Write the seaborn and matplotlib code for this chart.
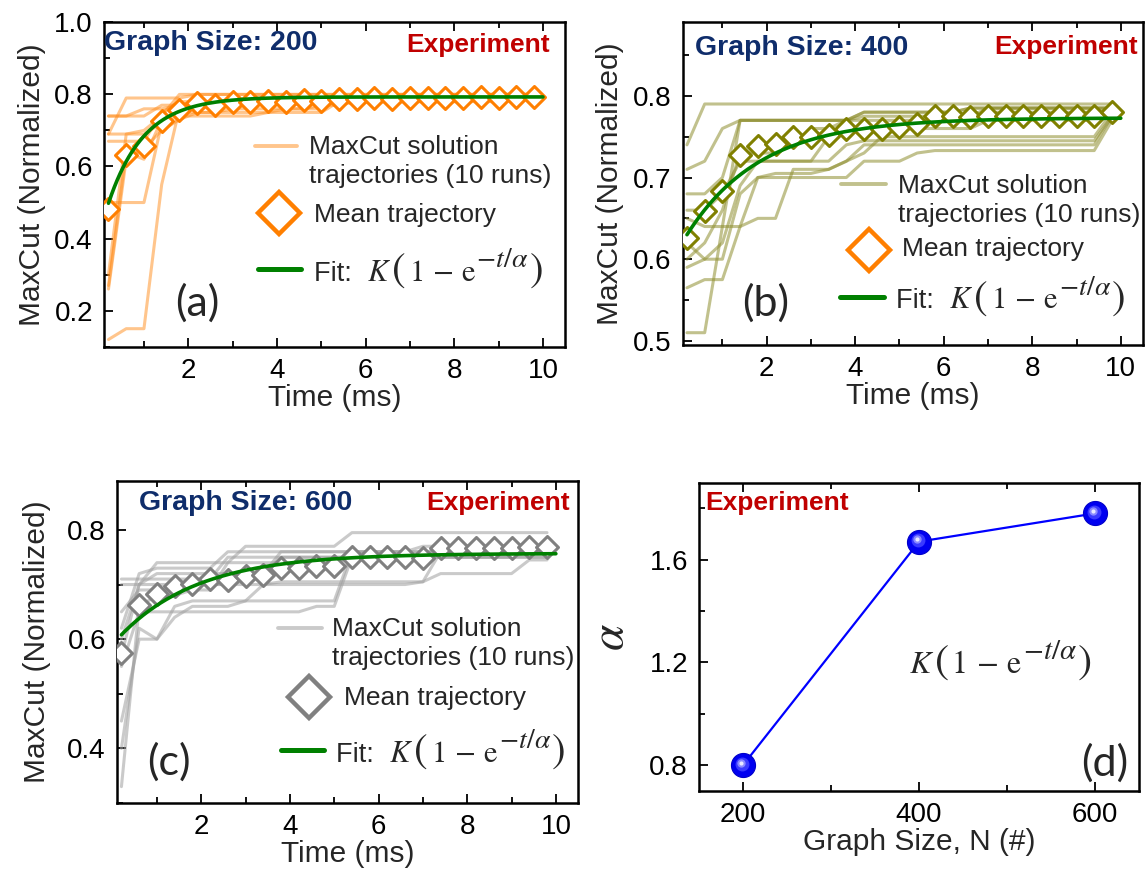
import numpy as np
import pandas as pd
import matplotlib
matplotlib.use("Agg")
import matplotlib.pyplot as plt
import matplotlib.transforms as mtransforms
from matplotlib.ticker import MultipleLocator
from matplotlib.offsetbox import TextArea, HPacker, AnnotationBbox
import seaborn as sns

# ---------------- data ----------------
time_ms = [0.2, 0.6, 1.0, 1.4, 1.8, 2.2, 2.6, 3.0, 3.4, 3.8, 4.2, 4.6, 5.0,
           5.4, 5.8, 6.2, 6.6, 7.0, 7.4, 7.8, 8.2, 8.6, 9.0, 9.4, 9.8]

mean_200 = [0.481, 0.633, 0.656, 0.726, 0.758, 0.777, 0.772, 0.780, 0.778, 0.782,
            0.780, 0.785, 0.782, 0.788, 0.786, 0.789, 0.788, 0.790, 0.789, 0.791,
            0.790, 0.792, 0.791, 0.792, 0.793]
mean_400 = [0.626, 0.659, 0.683, 0.727, 0.738, 0.741, 0.750, 0.750, 0.752, 0.760,
            0.760, 0.760, 0.762, 0.766, 0.775, 0.775, 0.774, 0.775, 0.775, 0.775,
            0.775, 0.775, 0.775, 0.775, 0.780]
mean_600 = [0.574, 0.663, 0.683, 0.697, 0.701, 0.711, 0.708, 0.716, 0.718, 0.730,
            0.730, 0.733, 0.733, 0.751, 0.750, 0.750, 0.751, 0.748, 0.766, 0.766,
            0.766, 0.767, 0.767, 0.768, 0.768]

runs_200 = [
    [0.12, 0.15, 0.15, 0.55, 0.76, 0.78, 0.78, 0.78, 0.79, 0.79, 0.79, 0.79, 0.79, 0.79, 0.79, 0.79, 0.79, 0.79, 0.79, 0.79, 0.79, 0.79, 0.79, 0.79, 0.79],
    [0.27, 0.64, 0.62, 0.73, 0.75, 0.75, 0.75, 0.75, 0.75, 0.75, 0.76, 0.76, 0.76, 0.79, 0.79, 0.79, 0.79, 0.79, 0.79, 0.79, 0.79, 0.80, 0.80, 0.80, 0.80],
    [0.30, 0.69, 0.69, 0.72, 0.74, 0.74, 0.74, 0.74, 0.74, 0.75, 0.75, 0.75, 0.75, 0.78, 0.78, 0.78, 0.78, 0.78, 0.78, 0.78, 0.78, 0.78, 0.78, 0.79, 0.79],
    [0.50, 0.50, 0.50, 0.72, 0.76, 0.78, 0.78, 0.78, 0.79, 0.79, 0.79, 0.79, 0.79, 0.79, 0.79, 0.79, 0.80, 0.80, 0.80, 0.80, 0.80, 0.80, 0.80, 0.80, 0.80],
    [0.67, 0.67, 0.67, 0.75, 0.78, 0.78, 0.78, 0.78, 0.78, 0.78, 0.78, 0.78, 0.78, 0.78, 0.78, 0.79, 0.79, 0.79, 0.79, 0.79, 0.79, 0.79, 0.79, 0.79, 0.79],
    [0.69, 0.79, 0.79, 0.79, 0.79, 0.80, 0.80, 0.80, 0.80, 0.80, 0.80, 0.80, 0.80, 0.80, 0.80, 0.80, 0.80, 0.80, 0.80, 0.80, 0.80, 0.80, 0.80, 0.80, 0.80],
    [0.69, 0.69, 0.70, 0.74, 0.80, 0.80, 0.80, 0.80, 0.80, 0.80, 0.80, 0.80, 0.80, 0.80, 0.80, 0.80, 0.80, 0.80, 0.80, 0.80, 0.80, 0.80, 0.80, 0.80, 0.80],
    [0.74, 0.74, 0.74, 0.77, 0.77, 0.78, 0.78, 0.78, 0.78, 0.78, 0.78, 0.78, 0.78, 0.78, 0.78, 0.78, 0.78, 0.79, 0.79, 0.79, 0.79, 0.79, 0.79, 0.79, 0.79],
    [0.74, 0.74, 0.76, 0.76, 0.77, 0.78, 0.78, 0.78, 0.78, 0.78, 0.79, 0.79, 0.79, 0.79, 0.79, 0.79, 0.79, 0.79, 0.79, 0.79, 0.79, 0.79, 0.79, 0.79, 0.79],
    [0.26, 0.62, 0.65, 0.70, 0.73, 0.75, 0.75, 0.76, 0.76, 0.76, 0.76, 0.76, 0.77, 0.77, 0.78, 0.78, 0.78, 0.78, 0.78, 0.78, 0.78, 0.79, 0.79, 0.79, 0.79],
]
runs_400 = [
    [0.74, 0.79, 0.79, 0.79, 0.79, 0.79, 0.79, 0.79, 0.79, 0.79, 0.79, 0.79, 0.79, 0.79, 0.79, 0.79, 0.79, 0.79, 0.79, 0.79, 0.79, 0.79, 0.79, 0.79, 0.79],
    [0.71, 0.72, 0.76, 0.77, 0.77, 0.77, 0.77, 0.77, 0.77, 0.77, 0.77, 0.77, 0.77, 0.77, 0.77, 0.77, 0.77, 0.78, 0.78, 0.78, 0.78, 0.78, 0.78, 0.78, 0.78],
    [0.68, 0.68, 0.70, 0.77, 0.77, 0.77, 0.77, 0.77, 0.77, 0.77, 0.78, 0.78, 0.78, 0.78, 0.78, 0.78, 0.785, 0.785, 0.785, 0.785, 0.785, 0.785, 0.785, 0.785, 0.785],
    [0.66, 0.66, 0.68, 0.72, 0.72, 0.72, 0.72, 0.72, 0.72, 0.74, 0.745, 0.745, 0.745, 0.745, 0.745, 0.745, 0.745, 0.745, 0.745, 0.745, 0.745, 0.745, 0.745, 0.745, 0.775],
    [0.65, 0.64, 0.64, 0.64, 0.65, 0.65, 0.71, 0.71, 0.71, 0.72, 0.73, 0.75, 0.75, 0.75, 0.75, 0.75, 0.75, 0.75, 0.75, 0.75, 0.75, 0.75, 0.75, 0.75, 0.78],
    [0.62, 0.60, 0.60, 0.68, 0.70, 0.705, 0.705, 0.705, 0.71, 0.72, 0.74, 0.74, 0.74, 0.74, 0.74, 0.74, 0.74, 0.74, 0.74, 0.74, 0.74, 0.74, 0.74, 0.74, 0.775],
    [0.60, 0.62, 0.66, 0.73, 0.73, 0.73, 0.74, 0.76, 0.76, 0.77, 0.78, 0.78, 0.78, 0.78, 0.78, 0.78, 0.785, 0.785, 0.785, 0.785, 0.785, 0.785, 0.785, 0.785, 0.785],
    [0.565, 0.575, 0.575, 0.64, 0.70, 0.70, 0.70, 0.70, 0.70, 0.70, 0.72, 0.72, 0.72, 0.73, 0.733, 0.733, 0.733, 0.733, 0.733, 0.733, 0.733, 0.733, 0.733, 0.733, 0.77],
    [0.51, 0.51, 0.64, 0.77, 0.77, 0.77, 0.77, 0.77, 0.77, 0.77, 0.775, 0.775, 0.775, 0.775, 0.775, 0.775, 0.775, 0.785, 0.785, 0.785, 0.785, 0.785, 0.785, 0.785, 0.785],
    [0.59, 0.60, 0.62, 0.69, 0.72, 0.72, 0.72, 0.72, 0.75, 0.76, 0.76, 0.76, 0.76, 0.76, 0.76, 0.76, 0.76, 0.77, 0.77, 0.77, 0.77, 0.77, 0.77, 0.77, 0.78],
]
runs_600 = [
    [0.33, 0.66, 0.68, 0.68, 0.69, 0.69, 0.74, 0.74, 0.74, 0.74, 0.74, 0.74, 0.74, 0.75, 0.75, 0.75, 0.75, 0.75, 0.75, 0.75, 0.75, 0.75, 0.75, 0.75, 0.75],
    [0.40, 0.62, 0.60, 0.64, 0.66, 0.66, 0.66, 0.67, 0.70, 0.70, 0.70, 0.70, 0.70, 0.70, 0.70, 0.70, 0.70, 0.705, 0.76, 0.76, 0.76, 0.76, 0.76, 0.765, 0.765],
    [0.45, 0.60, 0.60, 0.66, 0.67, 0.67, 0.67, 0.67, 0.67, 0.67, 0.67, 0.67, 0.67, 0.76, 0.76, 0.76, 0.76, 0.76, 0.76, 0.76, 0.76, 0.76, 0.76, 0.76, 0.76],
    [0.55, 0.65, 0.65, 0.65, 0.65, 0.65, 0.65, 0.65, 0.65, 0.65, 0.65, 0.66, 0.66, 0.75, 0.75, 0.75, 0.75, 0.75, 0.75, 0.75, 0.75, 0.75, 0.75, 0.75, 0.75],
    [0.60, 0.70, 0.74, 0.74, 0.74, 0.74, 0.74, 0.77, 0.77, 0.77, 0.77, 0.77, 0.77, 0.795, 0.795, 0.795, 0.795, 0.795, 0.795, 0.795, 0.795, 0.795, 0.795, 0.795, 0.795],
    [0.62, 0.72, 0.73, 0.73, 0.73, 0.73, 0.76, 0.76, 0.76, 0.76, 0.76, 0.76, 0.76, 0.76, 0.76, 0.76, 0.76, 0.77, 0.77, 0.77, 0.77, 0.77, 0.77, 0.77, 0.77],
    [0.65, 0.69, 0.69, 0.69, 0.70, 0.70, 0.70, 0.70, 0.70, 0.705, 0.705, 0.705, 0.705, 0.705, 0.705, 0.705, 0.705, 0.705, 0.72, 0.72, 0.72, 0.72, 0.72, 0.745, 0.745],
    [0.70, 0.70, 0.70, 0.70, 0.70, 0.70, 0.70, 0.72, 0.72, 0.76, 0.76, 0.76, 0.76, 0.76, 0.76, 0.76, 0.76, 0.76, 0.76, 0.76, 0.76, 0.76, 0.76, 0.76, 0.76],
    [0.71, 0.71, 0.71, 0.71, 0.71, 0.71, 0.75, 0.75, 0.75, 0.75, 0.75, 0.75, 0.75, 0.75, 0.75, 0.75, 0.75, 0.75, 0.77, 0.77, 0.77, 0.77, 0.77, 0.77, 0.77],
    [0.57, 0.70, 0.72, 0.72, 0.72, 0.72, 0.72, 0.72, 0.72, 0.75, 0.75, 0.75, 0.75, 0.75, 0.75, 0.75, 0.75, 0.75, 0.75, 0.75, 0.75, 0.75, 0.75, 0.76, 0.76],
]

graph_sizes = [200, 400, 600]
alpha_fit = [0.80, 1.67, 1.78]      # fitted time constants (panel d)
K_fit = [0.793, 0.773, 0.757]       # fitted plateau of each fit curve
fit_start = [0.498, 0.630, 0.608]   # fit curve value at the first time point
fit_t_range = [0.2, 10.0]

size_labels = ["Graph Size: 200", "Graph Size: 400", "Graph Size: 600"]
panel_letters = ["(a)", "(b)", "(c)", "(d)"]
legend_labels = ["MaxCut solution\ntrajectories (10 runs)", "Mean trajectory", "Fit:  "]

# ---------------- style ----------------
sns.set_style("ticks")
SANS = ["Liberation Sans", "DejaVu Sans"]
plt.rcParams["font.family"] = SANS
plt.rcParams["mathtext.fontset"] = "stix"

NAVY = "#0f2d6b"
RED = "#c00000"
GREEN = "#008000"

fig = plt.figure(figsize=(11.46, 8.72), dpi=100)
ax_a = fig.add_axes([0.0908, 0.6024, 0.4023, 0.372])
ax_b = fig.add_axes([0.5956, 0.6044, 0.4017, 0.370])
ax_c = fig.add_axes([0.1021, 0.0791, 0.4023, 0.3696])
ax_d = fig.add_axes([0.6100, 0.0932, 0.3840, 0.3534])


def style_axes(ax):
    for s in ax.spines.values():
        s.set_visible(True)
        s.set_linewidth(1.8)
        s.set_color("black")
    ax.tick_params(which="both", direction="in", top=True, right=False,
                   labelsize=20, width=1.3, color="black", labelcolor="black")
    ax.tick_params(which="major", length=6.5)
    ax.tick_params(which="minor", length=4)
    ax.tick_params(axis="y", pad=8)
    ax.tick_params(axis="x", pad=8)
    ax.grid(False)


def formula_box(ax, x, y, prefix=None, base=22):
    parts = []
    if prefix:
        parts.append(TextArea(prefix, textprops=dict(fontsize=19.5, family=SANS)))
    parts += [
        TextArea(r"$K$", textprops=dict(fontsize=base)),
        TextArea(r"$($", textprops=dict(fontsize=base * 1.33)),
        TextArea(r"$\,1\,-\,\mathrm{e}$", textprops=dict(fontsize=base)),
        TextArea(r"${}^{-t/\alpha}$", textprops=dict(fontsize=base * 1.3)),
        TextArea(r"$)$", textprops=dict(fontsize=base * 1.33)),
    ]
    box = HPacker(children=parts, align="baseline", pad=0, sep=0)
    ab = AnnotationBbox(box, (x, y), xycoords="axes fraction",
                        box_alignment=(0, 0.5), frameon=False, pad=0,
                        annotation_clip=False)
    ax.add_artist(ab)


def trajectory_panel(ax, idx, runs, mean, run_color, run_alpha, dia_color,
                     leg_dia_color, ylim, ymajor, yminor, leg, title_pos,
                     exp_pos, letter_pos, ylabelpad):
    df = pd.DataFrame([(r, t, v) for r, run in enumerate(runs)
                       for t, v in zip(time_ms, run)],
                      columns=["run", "t", "v"])
    sns.lineplot(data=df, x="t", y="v", units="run", estimator=None,
                 color=run_color, alpha=run_alpha, lw=2.2, ax=ax,
                 legend=False, zorder=2)
    sns.scatterplot(x=time_ms, y=mean, marker="D", s=125, color="white",
                    edgecolor=dia_color, linewidth=2.2, ax=ax, zorder=3,
                    legend=False)
    tt = np.linspace(fit_t_range[0], fit_t_range[1], 300)
    K, a, y0 = K_fit[idx], alpha_fit[idx], fit_start[idx]
    yy = K - (K - y0) * np.exp(-(tt - fit_t_range[0]) / a)
    sns.lineplot(x=tt, y=yy, color=GREEN, lw=2.6, ax=ax, zorder=4)

    ax.set_xlim(0.1, 10.5)
    ax.set_ylim(*ylim)
    ax.xaxis.set_major_locator(MultipleLocator(2))
    ax.xaxis.set_minor_locator(MultipleLocator(1))
    ax.yaxis.set_major_locator(MultipleLocator(ymajor))
    ax.yaxis.set_minor_locator(MultipleLocator(yminor))
    ax.set_xlabel("Time (ms)", fontsize=21.5, labelpad=0)
    ax.set_ylabel("MaxCut (Normalized)", fontsize=21.5, labelpad=ylabelpad)
    style_axes(ax)

    tr = ax.transAxes
    ax.text(title_pos[0], title_pos[1], size_labels[idx], transform=tr,
            color=NAVY, fontsize=20.5, fontweight="bold", ha="left", va="center")
    ax.text(exp_pos[0], exp_pos[1], "Experiment", transform=tr, color=RED,
            fontsize=19, fontweight="bold", ha="right", va="center")
    ax.text(letter_pos[0], letter_pos[1], panel_letters[idx], transform=tr,
            fontsize=31, family=["Lato", "DejaVu Sans"], ha="left", va="center")

    # legend (handles + labels)
    (lx0, lx1, ly), (tx, ty), (dx, dy), (mx, my), (fx0, fx1, fy), (ftx, fty) = leg
    ax.plot([lx0, lx1], [ly, ly], transform=tr, color=run_color,
            alpha=run_alpha, lw=2.8, clip_on=False)
    ax.text(tx, ty, legend_labels[0], transform=tr, fontsize=19,
            ha="left", va="center", linespacing=1.28)
    ax.plot([dx], [dy], transform=tr, marker="D", ms=21, mfc="white",
            mec=leg_dia_color, mew=3.2, clip_on=False)
    ax.text(mx, my, legend_labels[1], transform=tr, fontsize=19,
            ha="left", va="center")
    ax.plot([fx0, fx1], [fy, fy], transform=tr, color=GREEN, lw=3.6,
            clip_on=False)
    formula_box(ax, ftx, fty, prefix=legend_labels[2], base=22)


trajectory_panel(
    ax_a, 0, runs_200, mean_200, "#ff8c1a", 0.5, "#ff7f00", "#ff7f00",
    (0.1, 1.0), 0.2, 0.1,
    leg=((0.328, 0.419, 0.619), (0.445, 0.571), (0.379, 0.411),
         (0.455, 0.406), (0.333, 0.428, 0.239), (0.456, 0.235)),
    title_pos=(0.0, 0.936), exp_pos=(0.967, 0.930), letter_pos=(0.155, 0.135),
    ylabelpad=6)

trajectory_panel(
    ax_b, 1, runs_400, mean_400, "#8f8f30", 0.55, "#808000", "#ff7f00",
    (0.495, 0.89), 0.1, 0.05,
    leg=((0.345, 0.441, 0.498), (0.467, 0.448), (0.405, 0.294),
         (0.4765, 0.2965), (0.3415, 0.437, 0.150), (0.4646, 0.146)),
    title_pos=(0.028, 0.920), exp_pos=(0.988, 0.923), letter_pos=(0.129, 0.130),
    ylabelpad=6)

trajectory_panel(
    ax_c, 2, runs_600, mean_600, "#a0a0a0", 0.55, "#808080", "#808080",
    (0.30, 0.89), 0.2, 0.1,
    leg=((0.350, 0.4436, 0.542), (0.466, 0.4955), (0.416, 0.330),
         (0.4915, 0.325), (0.355, 0.450, 0.1645), (0.4757, 0.160)),
    title_pos=(0.0477, 0.931), exp_pos=(0.983, 0.931), letter_pos=(0.065, 0.127),
    ylabelpad=12)

# ---------------- panel (d) ----------------
ax = ax_d
sns.lineplot(x=graph_sizes, y=alpha_fit, color="#0000ff", lw=1.6, ax=ax,
             zorder=2)
sns.scatterplot(x=graph_sizes, y=alpha_fit, s=300, color="#0000f0",
                edgecolor="#0000c8", linewidth=0.8, ax=ax, zorder=3, legend=False)
for ms_, col, off in [(10, "#3a3aff", -1.2), (6, "#8a8aff", -2.2), (3, "#e8e8ff", -2.4)]:
    shift = mtransforms.ScaledTranslation(off / 100, -off / 100, fig.dpi_scale_trans)
    ax.plot(graph_sizes, alpha_fit, ls="none", marker="o", ms=ms_, mfc=col,
            mec="none", transform=ax.transData + shift, zorder=4)
ax.set_xlim(150, 650)
ax.set_ylim(0.70, 1.90)
ax.xaxis.set_major_locator(MultipleLocator(200))
ax.xaxis.set_minor_locator(MultipleLocator(100))
ax.yaxis.set_major_locator(MultipleLocator(0.4))
ax.yaxis.set_minor_locator(MultipleLocator(0.2))
ax.set_xlabel("Graph Size, N (#)", fontsize=21.5, labelpad=0)
ax.set_ylabel(r"$\alpha$", fontsize=34, labelpad=12)
style_axes(ax)
ax.text(0.0136, 0.933, "Experiment", transform=ax.transAxes, color=RED,
        fontsize=19, fontweight="bold", ha="left", va="center")
formula_box(ax, 0.476, 0.418, prefix=None, base=23)
ax.text(0.975, 0.090, panel_letters[3], transform=ax.transAxes, fontsize=31,
        family=["Lato", "DejaVu Sans"], ha="right", va="center")

fig.savefig("out.png", dpi=100, facecolor="white")
